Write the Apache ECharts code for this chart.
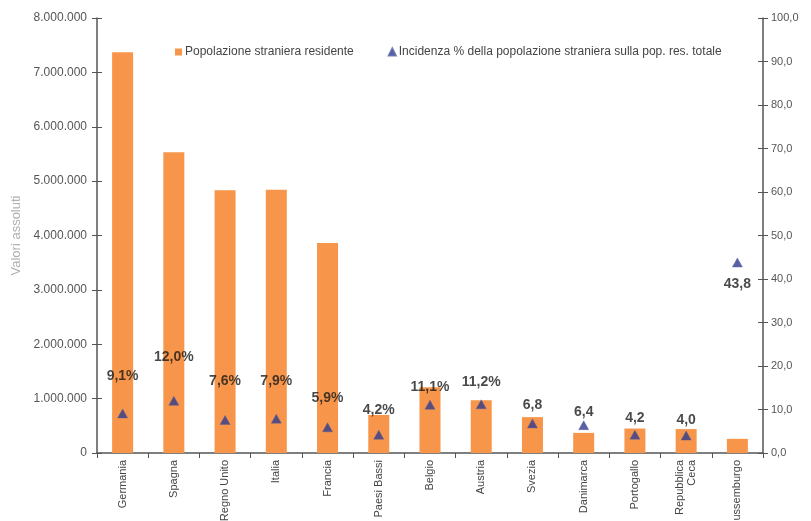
<!DOCTYPE html>
<html>
<head>
<meta charset="utf-8">
<script src="https://cdn.jsdelivr.net/npm/echarts@6/dist/echarts.min.js"></script>
<style>html,body{margin:0;padding:0;background:#fff}#c{width:811px;height:521px}</style>
</head>
<body>
<div id="c"></div>
<script>
const categories = ["Germania","Spagna","Regno Unito","Italia","Francia","Paesi Bassi","Belgio","Austria","Svezia","Danimarca","Portogallo","Repubblica\nCeca","Lussemburgo"];
const residents = [7370000,5530000,4830000,4840000,3860000,700000,1210000,970000,660000,370000,450000,440000,260000];
const incidence = [9.1,12.0,7.6,7.9,5.9,4.2,11.1,11.2,6.8,6.4,4.2,4.0,43.8];
const incidenceLabels = ["9,1%","12,0%","7,6%","7,9%","5,9%","4,2%","11,1%","11,2%","6,8","6,4","4,2","4,0","43,8"];
const leftTicks = ["0","1.000.000","2.000.000","3.000.000","4.000.000","5.000.000","6.000.000","7.000.000","8.000.000"];
const rightTicks = ["0,0","10,0","20,0","30,0","40,0","50,0","60,0","70,0","80,0","90,0","100,0"];
const seriesNames = ["Popolazione straniera residente","Incidenza % della popolazione straniera sulla pop. res. totale"];
// label lift (style): distance in px of label centre above triangle
const labelLift = [37,44,39,37,29,25,18,22,18,13,17,15,-22];

const font = "Liberation Sans, Arial, sans-serif";
const axisColor = "#555";
const chart = echarts.init(document.getElementById('c'));
const pctData = incidence.map((v,i)=>({value:v, label:{offset:[0,-labelLift[i]]}}));
chart.setOption({
  animation:false,
  grid:{left:97,right:48,top:18,bottom:68,containLabel:false,outerBoundsMode:'none'},
  legend:{
    left:170, top:41, itemGap:34, itemWidth:7, itemHeight:7,
    textStyle:{fontFamily:font,fontSize:12,color:"#444",padding:[0,0,0,-2]},
    data:[{name:seriesNames[0],icon:'rect'},{name:seriesNames[1],icon:'triangle'}]
  },
  xAxis:{
    type:'category', data:categories,
    axisLine:{lineStyle:{color:axisColor,width:1.5}},
    axisTick:{show:true,alignWithLabel:false,length:5,lineStyle:{color:axisColor}},
    axisLabel:{rotate:90,fontFamily:font,fontSize:11,color:"#444",interval:0,margin:7,lineHeight:12}
  },
  yAxis:[{
    type:'value', min:0, max:8000000, interval:1000000, position:'left',
    name:'Valori assoluti', nameLocation:'middle', nameGap:74, nameRotate:90,
    nameTextStyle:{fontFamily:font,fontSize:13,color:"#b0b0b0"},
    axisLine:{show:true,lineStyle:{color:axisColor,width:1.5}},
    axisTick:{show:true,length:5,lineStyle:{color:axisColor}},
    splitLine:{show:false},
    axisLabel:{fontFamily:font,fontSize:12,color:"#555",margin:10,
      formatter:(v)=>leftTicks[Math.round(v/1000000)]}
  },{
    type:'value', min:0, max:100, interval:10, position:'right',
    name:'valori %', nameLocation:'middle', nameGap:34, nameRotate:90,
    nameTextStyle:{fontFamily:font,fontSize:13,color:"#b0b0b0"},
    axisLine:{show:true,lineStyle:{color:axisColor,width:1.5}},
    axisTick:{show:true,length:5,lineStyle:{color:axisColor}},
    splitLine:{show:false},
    axisLabel:{fontFamily:font,fontSize:11,color:"#555",margin:8,
      formatter:(v)=>rightTicks[Math.round(v/10)]}
  },{
    type:'value', min:0, max:8000000, interval:1000000, position:'left',
    axisLine:{show:false}, axisLabel:{show:false}, splitLine:{show:false},
    axisTick:{show:true,inside:true,length:5,lineStyle:{color:axisColor}}
  },{
    type:'value', min:0, max:100, interval:10, position:'right',
    axisLine:{show:false}, axisLabel:{show:false}, splitLine:{show:false},
    axisTick:{show:true,inside:true,length:5,lineStyle:{color:axisColor}}
  }],
  series:[{
    name:seriesNames[0], type:'bar', yAxisIndex:0, data:residents, barWidth:21,
    itemStyle:{color:'#F7964A'}
  },{
    name:seriesNames[1], type:'scatter', yAxisIndex:1, data:pctData,
    symbol:'triangle', symbolSize:[10,9],
    itemStyle:{color:'#2E3A8A',borderColor:'#5560a8',borderWidth:0.5},
    label:{show:true,position:'inside',fontFamily:font,fontWeight:'bold',fontSize:14,color:'#1a1a1a',
      formatter:(p)=>incidenceLabels[p.dataIndex]}
  }]
});
</script>
</body>
</html>
